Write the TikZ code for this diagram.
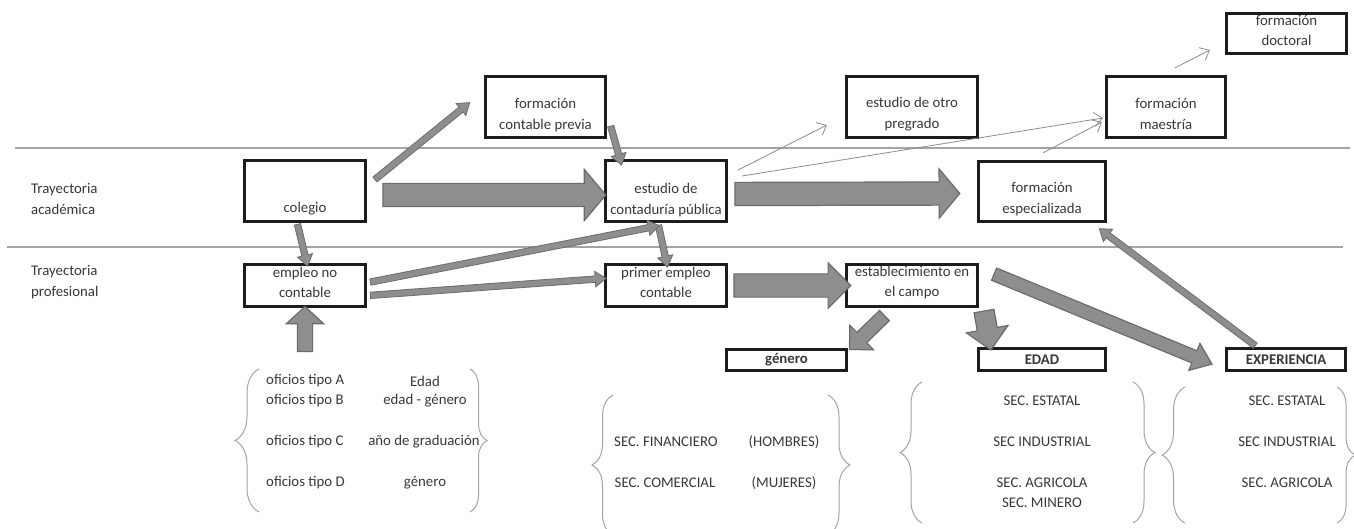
\documentclass[tikz,border=0pt]{standalone}
\usepackage{fontspec}
\setmainfont{Carlito}
\usetikzlibrary{shapes.arrows,calc,arrows.meta,decorations.pathreplacing}

\definecolor{arrowfill}{HTML}{8E8E8E}
\definecolor{arrowedge}{HTML}{6C6C6C}
\definecolor{linegray}{HTML}{A4A4A4}
\definecolor{thingray}{HTML}{8C8C8C}
\definecolor{textgray}{HTML}{383838}
\definecolor{boxline}{HTML}{1C1C1C}

\tikzset{
  blockarrow/.style={single arrow,draw=arrowedge,fill=arrowfill,line width=1.2pt,
    inner xsep=0pt,outer sep=0pt,single arrow head indent=0pt},
  arrowsize/.style n args={3}{inner ysep=#1,single arrow head extend=#2,single arrow tip angle=#3},
  midarrow/.style={arrowsize={2.8pt}{4.5pt}{70},line width=0.8pt}
}

% gray block arrow from #2 to #3
\newcommand{\flecha}[3][]{%
  \path let \p1=#2, \p2=#3, \n1={atan2(\y2-\y1,\x2-\x1)}, \n2={veclen(\x2-\x1,\y2-\y1)} in
    node[blockarrow,#1,minimum height=\n2,rotate=\n1] at ($(\p1)!0.5!(\p2)$) {};}

\begin{document}
\begin{tikzpicture}[x=1pt,y=-1pt,
    box/.style={draw=boxline,line width=3.2pt,fill=white,inner sep=0pt},
    tag/.style={box,line width=3pt,font=\bfseries\fontsize{14.8}{17}\selectfont,text=textgray},
    txt/.style={font=\fontsize{14.8}{20.5}\selectfont,text=textgray,align=center,inner sep=0pt},
    divider/.style={draw=linegray,line width=1.1pt},
    curly/.style={draw=linegray,line width=1pt,decorate,decoration={brace,amplitude=#1}},
    curly/.default=22pt,
    lightarrow/.style={draw=thingray,line width=0.8pt,-{Straight Barb[length=8pt,width=14pt]}}]
  \fill[white] (0,0) rectangle (1354,529);
  \useasboundingbox (0,0) rectangle (1354,529);

  % lanes
  \draw[divider] (15,148) -- (1350,148);
  \draw[divider] (7,247) -- (1343,247);
  \node[txt,align=left,anchor=west] (acad) at (31,199) {Trayectoria\\académica};
  \node[txt,align=left,anchor=west] (prof) at (31,282) {Trayectoria\\profesional};

  % boxes
  \node[box,minimum width=121pt,minimum height=61pt] (colegio) at (305,191) {};
  \node[box,minimum width=121pt,minimum height=42pt] (empleo) at (305,285.5) {};
  \node[box,minimum width=120pt,minimum height=61pt] (previa) at (545.5,107) {};
  \node[box,minimum width=121pt,minimum height=61pt] (estudio) at (666,191) {};
  \node[box,minimum width=121pt,minimum height=42pt] (primer) at (666,285.5) {};
  \node[box,minimum width=131pt,minimum height=61pt] (otro) at (912,107) {};
  \node[box,minimum width=131pt,minimum height=42pt] (establ) at (912,285.5) {};
  \node[box,minimum width=119pt,minimum height=61pt] (maestria) at (1166,107) {};
  \node[box,minimum width=127pt,minimum height=60pt] (especial) at (1042,191.5) {};
  \node[box,minimum width=120pt,minimum height=40pt] (doctoral) at (1286.5,33.5) {};

  \node[txt] (colegio-t) at ($(colegio)+(0,18)$) {colegio};
  \node[txt] (empleo-t) at ($(empleo)+(0,-3)$) {empleo no\\contable};
  \node[txt] (previa-t) at ($(previa)+(0,8)$) {formación\\contable previa};
  \node[txt] (estudio-t) at ($(estudio)+(0,9)$) {estudio de\\contaduría pública};
  \node[txt] (primer-t) at ($(primer)+(0,-3)$) {primer empleo\\contable};
  \node[txt] (otro-t) at ($(otro)+(0,7)$) {estudio de otro\\pregrado};
  \node[txt] (establ-t) at ($(establ)+(0,-3)$) {establecimiento en\\el campo};
  \node[txt] (maestria-t) at ($(maestria)+(0,7)$) {formación\\maestría};
  \node[txt] (especial-t) at ($(especial)+(0,7.5)$) {formación\\especializada};
  \node[txt] (doctoral-t) at ($(doctoral)+(0,-3)$) {formación\\doctoral};

  \node[tag,minimum width=120pt,minimum height=21pt] (genero) at (786.5,360) {género};
  \node[tag,minimum width=127pt,minimum height=22pt] (edad) at (1042,359.5) {EDAD};
  \node[tag,minimum width=119pt,minimum height=22pt] (experiencia) at (1286,359.5) {EXPERIENCIA};

  % big arrows
  \flecha[arrowsize={11pt}{14pt}{100}]{($(colegio.east)+(11,4)$)}{($(estudio.west)+(-3,4)$)}
  \flecha[arrowsize={11pt}{13pt}{100}]{($(estudio.east)+(2,3)$)}{($(especial.west)+(-22,2)$)}
  \flecha[arrowsize={11pt}{11pt}{90}]{(primer.east)}{(establ.west)}
  \flecha[arrowsize={7pt}{11pt}{95}]{($(empleo.south)+(0,47)$)}{($(empleo.south)+(0,2)$)}
  \flecha[arrowsize={6.5pt}{10pt}{90}]{($(establ.south)+(-25,5)$)}{($(genero.north east)+(4,-1)$)}
  \flecha[arrowsize={9.5pt}{11pt}{90}]{($(establ.south east)+(4,-2)$)}{($(edad.north west)+(13,-2)$)}
  \flecha[arrowsize={6pt}{8pt}{75}]{($(establ.east)+(11,-13)$)}{($(experiencia.west)+(-17,3)$)}

  % medium arrows
  \flecha[midarrow]{($(experiencia.north)+(-29,0)$)}{($(especial.south east)+(-6,7)$)}
  \flecha[midarrow]{($(colegio.east)+(6,-10)$)}{($(previa.west)+(-16,-3)$)}
  \flecha[midarrow]{($(previa.east)+(3,17)$)}{($(estudio.north west)+(17,4)$)}
  \flecha[midarrow]{($(colegio.south)+(-8,-1)$)}{($(empleo.north)+(2,1)$)}
  \flecha[midarrow]{($(estudio.south)+(-8,0)$)}{($(primer.north)+(1,2)$)}
  \flecha[midarrow]{($(empleo.east)+(1,-3)$)}{($(estudio.south)+(-9,3)$)}
  \flecha[midarrow]{($(empleo.east)+(1,10)$)}{($(primer.west)+(0,-7)$)}

  % thin arrows
  \draw[lightarrow] ($(estudio.east)+(10,-21)$) -- ($(otro.west)+(-18,18)$);
  \draw[lightarrow] ($(estudio.east)+(14,-15)$) -- ($(maestria.west)+(-2,11)$);
  \draw[lightarrow] ($(especial.north)+(1,-7)$) -- ($(maestria.west)+(-3,15)$);
  \draw[lightarrow] ($(maestria.north)+(9,-7)$) -- ($(doctoral.west)+(-15,16.5)$);

  % groups
  \draw[curly=24pt] (259,512) -- (259,369);
  \draw[curly=17pt] (470,369) -- (470,512);
  \node[txt,anchor=west] (tipoA) at (266,381) {oficios tipo A};
  \node[txt,anchor=west] (tipoB) at (266,401) {oficios tipo B};
  \node[txt,anchor=west] (tipoC) at (266,442) {oficios tipo C};
  \node[txt,anchor=west] (tipoD) at (266,483) {oficios tipo D};
  \node[txt] (edadA) at (425,381) {Edad};
  \node[txt] (edadB) at (425,401) {edad - género};
  \node[txt] (edadC) at (424,442) {año de graduación};
  \node[txt] (edadD) at (425,483) {género};

  \draw[curly=21pt] (613,535) -- (613,395);
  \draw[curly=22pt] (828,395) -- (828,535);
  \node[txt] (financiero) at (666,442) {SEC. FINANCIERO};
  \node[txt] (hombres) at (784,442) {(HOMBRES)};
  \node[txt] (comercial) at (665,483) {SEC. COMERCIAL};
  \node[txt] (mujeres) at (784,483) {(MUJERES)};

  \draw[curly] (922,523) -- (922,382);
  \draw[curly] (1133,382) -- (1133,523);
  \node[txt] (estatal1) at (1042,401) {SEC. ESTATAL};
  \node[txt] (industrial1) at (1042,442) {SEC INDUSTRIAL};
  \node[txt] (agricola1) at (1042,493) {SEC. AGRICOLA\\SEC. MINERO};

  \draw[curly=23pt] (1185,523) -- (1185,387);
  \draw[curly=18pt] (1337,387) -- (1337,523);
  \node[txt] (estatal2) at (1287,401) {SEC. ESTATAL};
  \node[txt] (industrial2) at (1287,442) {SEC INDUSTRIAL};
  \node[txt] (agricola2) at (1287,483) {SEC. AGRICOLA};
\end{tikzpicture}
\end{document}
